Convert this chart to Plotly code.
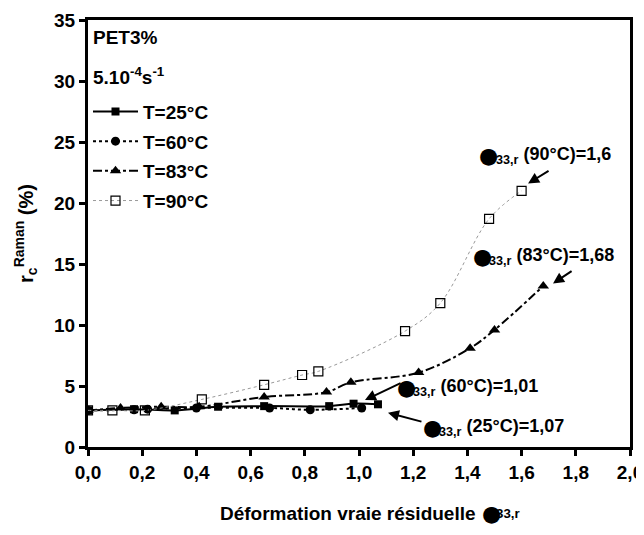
import plotly.graph_objects as go

# PET3%, 5.10^-4 s^-1 : r_c Raman vs residual true strain
x_25 = [0.0, 0.17, 0.32, 0.48, 0.65, 0.89, 0.98, 1.07]
y_25 = [3.0, 3.1, 3.0, 3.3, 3.35, 3.35, 3.55, 3.5]

x_60 = [0.0, 0.17, 0.22, 0.40, 0.67, 0.82, 1.01]
y_60 = [3.0, 3.05, 3.1, 3.2, 3.2, 3.05, 3.2]

x_83 = [0.0, 0.12, 0.27, 0.41, 0.65, 0.88, 0.97, 1.22, 1.41, 1.50, 1.68]
y_83 = [3.0, 3.2, 3.3, 3.3, 4.1, 4.5, 5.3, 6.1, 8.1, 9.6, 13.2]

x_90 = [0.0, 0.09, 0.21, 0.42, 0.65, 0.79, 0.85, 1.17, 1.30, 1.48, 1.60]
y_90 = [3.0, 3.0, 3.0, 3.9, 5.1, 5.9, 6.2, 9.5, 11.8, 18.7, 21.0]

x_ticks = [0.0, 0.2, 0.4, 0.6, 0.8, 1.0, 1.2, 1.4, 1.6, 1.8, 2.0]
x_ticktext = ["0,0", "0,2", "0,4", "0,6", "0,8", "1,0", "1,2", "1,4", "1,6", "1,8", "2,0"]
y_ticks = [0, 5, 10, 15, 20, 25, 30, 35]

# labels: (text, blob x, blob y, text x, arrow tail x, y, arrow head x, y)
labels = [
    ("(90°C)=1,6", 1.476, 23.9, 1.497, 1.705, 22.7, 1.624, 21.6),
    ("(83°C)=1,68", 1.454, 15.6, 1.474, 1.790, 14.5, 1.716, 13.4),
    ("(60°C)=1,01", 1.177, 4.9, 1.192, 1.159, 5.3, 1.022, 3.85),
    ("(25°C)=1,07", 1.273, 1.6, 1.288, 1.236, 2.05, 1.107, 2.8),
]

FONT = "Liberation Sans"
BLOB = dict(size=22, color="black", family="DejaVu Sans")

fig = go.Figure()
fig.add_trace(go.Scatter(x=x_25, y=y_25, name="T=25°C", mode="lines+markers", legendgroup="a",
                         line=dict(color="black", width=2, shape="spline"),
                         marker=dict(symbol="square", size=8, color="black")))
fig.add_trace(go.Scatter(x=x_60, y=y_60, name="T=60°C", mode="lines+markers", legendgroup="b",
                         line=dict(color="black", width=2, dash="dot", shape="spline"),
                         marker=dict(symbol="circle", size=9, color="black")))
fig.add_trace(go.Scatter(x=x_83, y=y_83, name="T=83°C", mode="lines+markers", legendgroup="c",
                         line=dict(color="black", width=2, dash="dashdot", shape="spline"),
                         marker=dict(symbol="triangle-up", size=10, color="black")))
fig.add_trace(go.Scatter(x=x_90, y=y_90, name="T=90°C", mode="lines+markers", legendgroup="d",
                         line=dict(color="#999999", width=1, dash="dot", shape="spline"),
                         marker=dict(symbol="square-open", size=9, color="black",
                                     line=dict(width=1.2))))

for lab, bx, by, tx, ax0, ay0, hx, hy in labels:
    fig.add_annotation(x=bx, y=by, xanchor="center", yanchor="middle", showarrow=False,
                       text="●", font=BLOB)
    fig.add_annotation(x=tx, y=by, xanchor="left", yanchor="middle", showarrow=False,
                       text="<sub>33,r</sub> " + lab,
                       font=dict(size=18, color="black", family=FONT, weight="bold"))
    fig.add_annotation(x=hx, y=hy, ax=ax0, ay=ay0, axref="x", ayref="y", text="",
                       showarrow=True, arrowhead=2, arrowsize=1.1, arrowwidth=2,
                       arrowcolor="black")

fig.add_annotation(x=0.01, y=33.6, xanchor="left", yanchor="middle", showarrow=False,
                   text="PET3%", font=dict(size=19, weight="bold"))
fig.add_annotation(x=0.01, y=30.4, xanchor="left", yanchor="middle", showarrow=False,
                   text="5.10<sup>-4</sup>s<sup>-1</sup>", font=dict(size=19, weight="bold"))

# x-axis title, drawn as annotations so the epsilon blob can be larger
fig.add_annotation(xref="paper", yref="paper", x=0.7196, y=-0.155, xanchor="right",
                   yanchor="middle", showarrow=False, text="Déformation vraie résiduelle",
                   font=dict(size=19, weight="bold"))
fig.add_annotation(xref="paper", yref="paper", x=0.7235, y=-0.155, xanchor="left",
                   yanchor="middle", showarrow=False, text="●", font=BLOB)
fig.add_annotation(xref="paper", yref="paper", x=0.749, y=-0.155, xanchor="left",
                   yanchor="middle", showarrow=False, text="<sub>33,r</sub>",
                   font=dict(size=19, weight="bold"))

fig.update_layout(
    width=636, height=519,
    margin=dict(l=80, r=14, t=12, b=80, autoexpand=False),
    paper_bgcolor="white", plot_bgcolor="white",
    font=dict(family=FONT, size=19, color="black", weight="bold"),
    showlegend=True,
    legend=dict(x=0.0, y=0.83, xanchor="left", yanchor="top",
                bgcolor="rgba(0,0,0,0)", font=dict(size=19, weight="bold"),
                tracegroupgap=2, itemwidth=45),
    xaxis=dict(range=[0, 2.0], tickvals=x_ticks, ticktext=x_ticktext, automargin=False,
               showgrid=False, zeroline=False, showline=True, linecolor="black",
               linewidth=3, mirror=True, ticks="outside", ticklen=6, tickwidth=2.5,
               tickcolor="black", tickfont=dict(size=19, weight="bold")),
    yaxis=dict(range=[0, 35], tickvals=y_ticks, automargin=False,
               showgrid=False, zeroline=False, showline=True, linecolor="black",
               linewidth=3, mirror=True, ticks="outside", ticklen=6, tickwidth=2.5,
               tickcolor="black", tickfont=dict(size=19, weight="bold"),
               title=dict(text="r<sub>c</sub><sup>Raman</sup> (%)",
                          font=dict(size=20, weight="bold"), standoff=16)),
)

fig.write_html("out.html")
